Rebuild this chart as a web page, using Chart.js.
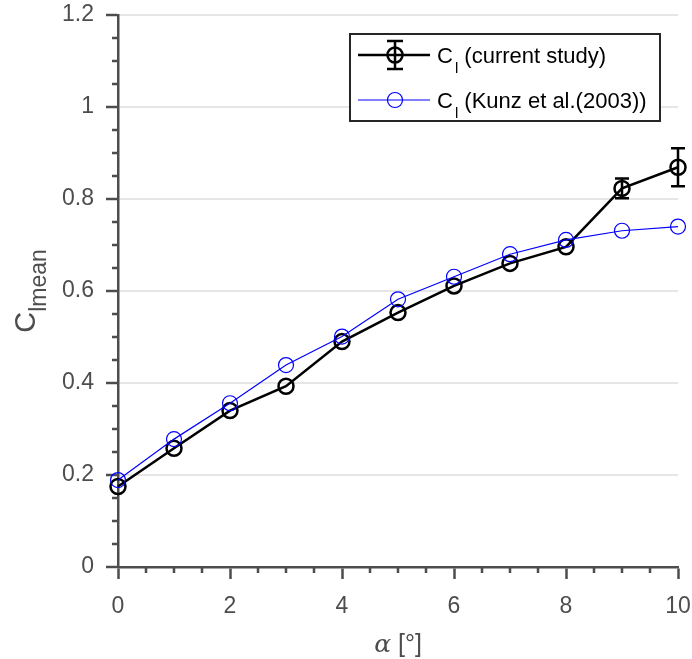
<!DOCTYPE html>
<html><head><meta charset="utf-8">
<script src="https://cdn.jsdelivr.net/npm/chart.js@4.4.1/dist/chart.umd.min.js"></script>
<style>html,body{margin:0;padding:0;background:#fff}canvas{display:block}</style>
</head><body>
<canvas id="c" width="692" height="659"></canvas>
<script>
// ---- data ----
const alphaDeg = [0, 1, 2, 3, 4, 5, 6, 7, 8, 9, 10];
const clCurrent = [0.175, 0.258, 0.340, 0.393, 0.490, 0.553, 0.611, 0.660, 0.696, 0.823, 0.869];
const clCurrentErr = [0, 0, 0, 0, 0, 0, 0, 0, 0, 0.0215, 0.0415];
const clKunz = [0.189, 0.278, 0.356, 0.439, 0.501, 0.582, 0.631, 0.680, 0.711, 0.731, 0.740];
const xMajorTicks = [0, 2, 4, 6, 8, 10];
const xTickLabels = ['0', '2', '4', '6', '8', '10'];
const yMajorTicks = [0, 0.2, 0.4, 0.6, 0.8, 1.0, 1.2];
const yTickLabels = ['0', '0.2', '0.4', '0.6', '0.8', '1', '1.2'];
const xMinorStep = 0.5;
const yMinorStep = 0.05;
const legendMain = ['C', 'C'];
const legendSub = ['l', 'l'];
const legendRest = [' (current study)', ' (Kunz et al.(2003))'];
const yTitleMain = 'C', yTitleSub = 'lmean';
const xTitleSym = 'α', xTitleRest = ' [°]';

const FONT = "'Liberation Sans', Arial, Helvetica, sans-serif";
const AXC = '#4d4d4d';

const deco = {
  id: 'deco',
  afterDatasetsDraw(chart) {
    const ctx = chart.ctx, xs = chart.scales.x, ys = chart.scales.y;
    ctx.save();
    ctx.strokeStyle = '#000'; ctx.lineWidth = 2.5;
    alphaDeg.forEach((a, i) => {
      const e = clCurrentErr[i];
      if (!e) return;
      const px = xs.getPixelForValue(a);
      const top = ys.getPixelForValue(clCurrent[i] + e);
      const bot = ys.getPixelForValue(clCurrent[i] - e);
      ctx.beginPath();
      ctx.moveTo(px, top); ctx.lineTo(px, bot);
      ctx.moveTo(px - 7, top); ctx.lineTo(px + 7, top);
      ctx.moveTo(px - 7, bot); ctx.lineTo(px + 7, bot);
      ctx.stroke();
    });
    ctx.restore();
  },
  afterDraw(chart) {
    const ctx = chart.ctx, xs = chart.scales.x, ys = chart.scales.y;
    const ca = chart.chartArea;
    ctx.save();
    // minor ticks
    ctx.strokeStyle = AXC; ctx.lineWidth = 2.5;
    ctx.beginPath();
    for (let v = xs.min; v <= xs.max + 1e-9; v += xMinorStep) {
      if (xMajorTicks.some(t => Math.abs(t - v) < 1e-9)) continue;
      const px = Math.round(xs.getPixelForValue(v));
      ctx.moveTo(px, ca.bottom); ctx.lineTo(px, ca.bottom + 6);
    }
    for (let v = ys.min; v <= ys.max + 1e-9; v += yMinorStep) {
      if (yMajorTicks.some(t => Math.abs(t - v) < 1e-9)) continue;
      const py = Math.round(ys.getPixelForValue(v));
      ctx.moveTo(ca.left, py); ctx.lineTo(ca.left - 6, py);
    }
    ctx.stroke();

    // y title
    ctx.save();
    ctx.fillStyle = AXC;
    ctx.translate(35, (ca.top + ca.bottom) / 2);
    ctx.rotate(-Math.PI / 2);
    ctx.textBaseline = 'alphabetic';
    ctx.font = '29px ' + FONT;
    const wC = ctx.measureText(yTitleMain).width;
    ctx.font = '23px ' + FONT;
    const wS = ctx.measureText(yTitleSub).width;
    const x0 = -(wC + wS) / 2;
    ctx.font = '29px ' + FONT;
    ctx.fillText(yTitleMain, x0, 0);
    ctx.font = '23px ' + FONT;
    ctx.fillText(yTitleSub, x0 + wC, 11);
    ctx.restore();

    // x title
    ctx.fillStyle = AXC;
    ctx.textBaseline = 'alphabetic';
    ctx.font = 'italic 25px "DejaVu Serif", "Liberation Serif", serif';
    const wa = ctx.measureText(xTitleSym).width;
    ctx.font = '25px ' + FONT;
    const wr = ctx.measureText(xTitleRest).width;
    const cx = (ca.left + ca.right) / 2;
    let xx = cx - (wa + wr) / 2;
    ctx.font = 'italic 25px "DejaVu Serif", "Liberation Serif", serif';
    ctx.fillText(xTitleSym, xx, 652);
    ctx.font = '25px ' + FONT;
    ctx.fillText(xTitleRest, xx + wa, 652);

    // legend
    const bx = 350, by = 34, bw = 310, bh = 87;
    ctx.fillStyle = '#fff';
    ctx.fillRect(bx, by, bw, bh);
    ctx.strokeStyle = '#262626'; ctx.lineWidth = 2;
    ctx.strokeRect(bx, by, bw, bh);
    const rows = [
      { y: 55, color: '#000', lw: 2.5, err: true, base: 63 },
      { y: 100, color: '#0000ff', lw: 1.2, err: false, base: 108 }
    ];
    rows.forEach((r, i) => {
      ctx.strokeStyle = r.color; ctx.lineWidth = r.lw;
      ctx.beginPath(); ctx.moveTo(358, r.y); ctx.lineTo(430, r.y); ctx.stroke();
      ctx.beginPath(); ctx.arc(395, r.y, 7.5, 0, Math.PI * 2); ctx.stroke();
      if (r.err) {
        ctx.beginPath();
        ctx.moveTo(395, r.y - 14); ctx.lineTo(395, r.y + 14);
        ctx.moveTo(387, r.y - 14); ctx.lineTo(403, r.y - 14);
        ctx.moveTo(387, r.y + 14); ctx.lineTo(403, r.y + 14);
        ctx.stroke();
      }
      ctx.fillStyle = '#000';
      let tx = 437;
      ctx.font = '22px ' + FONT;
      ctx.fillText(legendMain[i], tx, r.base);
      tx += ctx.measureText(legendMain[i]).width + 2;
      ctx.font = '15px ' + FONT;
      ctx.fillText(legendSub[i], tx, r.base + 10);
      tx += ctx.measureText(legendSub[i]).width;
      ctx.font = '22px ' + FONT;
      ctx.fillText(legendRest[i], tx, r.base);
    });
    ctx.restore();
  }
};

function fixPad(s) { s.paddingTop = 0; s.paddingBottom = 0; s.paddingLeft = 0; s.paddingRight = 0; }

new Chart(document.getElementById('c').getContext('2d'), {
  type: 'line',
  data: {
    datasets: [
      {
        label: 'Kunz', data: alphaDeg.map((a, i) => ({ x: a, y: clKunz[i] })),
        borderColor: '#0000ff', borderWidth: 1.2, pointRadius: 7.5, pointBorderWidth: 1.2,
        pointBorderColor: '#0000ff', pointBackgroundColor: 'rgba(0,0,0,0)',
        fill: false, tension: 0, order: 0, clip: false
      },
      {
        label: 'current', data: alphaDeg.map((a, i) => ({ x: a, y: clCurrent[i] })),
        borderColor: '#000', borderWidth: 2.5, pointRadius: 7.5, pointBorderWidth: 2.5,
        pointBorderColor: '#000', pointBackgroundColor: 'rgba(0,0,0,0)',
        fill: false, tension: 0, order: 1, clip: false
      }
    ]
  },
  options: {
    responsive: false, animation: false, devicePixelRatio: 1, events: [],
    layout: { padding: { left: 0, top: 15, right: 14, bottom: 0 } },
    plugins: { legend: { display: false }, tooltip: { enabled: false }, title: { display: false } },
    scales: {
      x: {
        type: 'linear', min: 0, max: 10,
        afterBuildTicks(s) { s.ticks = xMajorTicks.map(v => ({ value: v })); },
        afterFit(s) { s.height = 92; fixPad(s); },
        ticks: { font: { size: 23, family: FONT }, color: AXC, padding: 14, maxRotation: 0, autoSkip: false,
          callback: (v, i) => xTickLabels[i] },
        grid: { drawOnChartArea: false, drawTicks: true, tickLength: 12, tickWidth: 2.5, tickColor: AXC },
        border: { color: AXC, width: 2.5 }
      },
      y: {
        type: 'linear', min: 0, max: 1.2,
        afterBuildTicks(s) { s.ticks = yMajorTicks.map(v => ({ value: v })); },
        afterFit(s) { s.width = 118; fixPad(s); },
        ticks: { font: { size: 23, family: FONT }, color: AXC, padding: 12, autoSkip: false,
          callback: (v, i) => yTickLabels[i] },
        grid: { color: '#e6e6e6', lineWidth: 2, drawTicks: true, tickLength: 12, tickWidth: 2.5, tickColor: AXC },
        border: { color: AXC, width: 2.5 }
      }
    }
  },
  plugins: [deco]
});
</script>
</body></html>
